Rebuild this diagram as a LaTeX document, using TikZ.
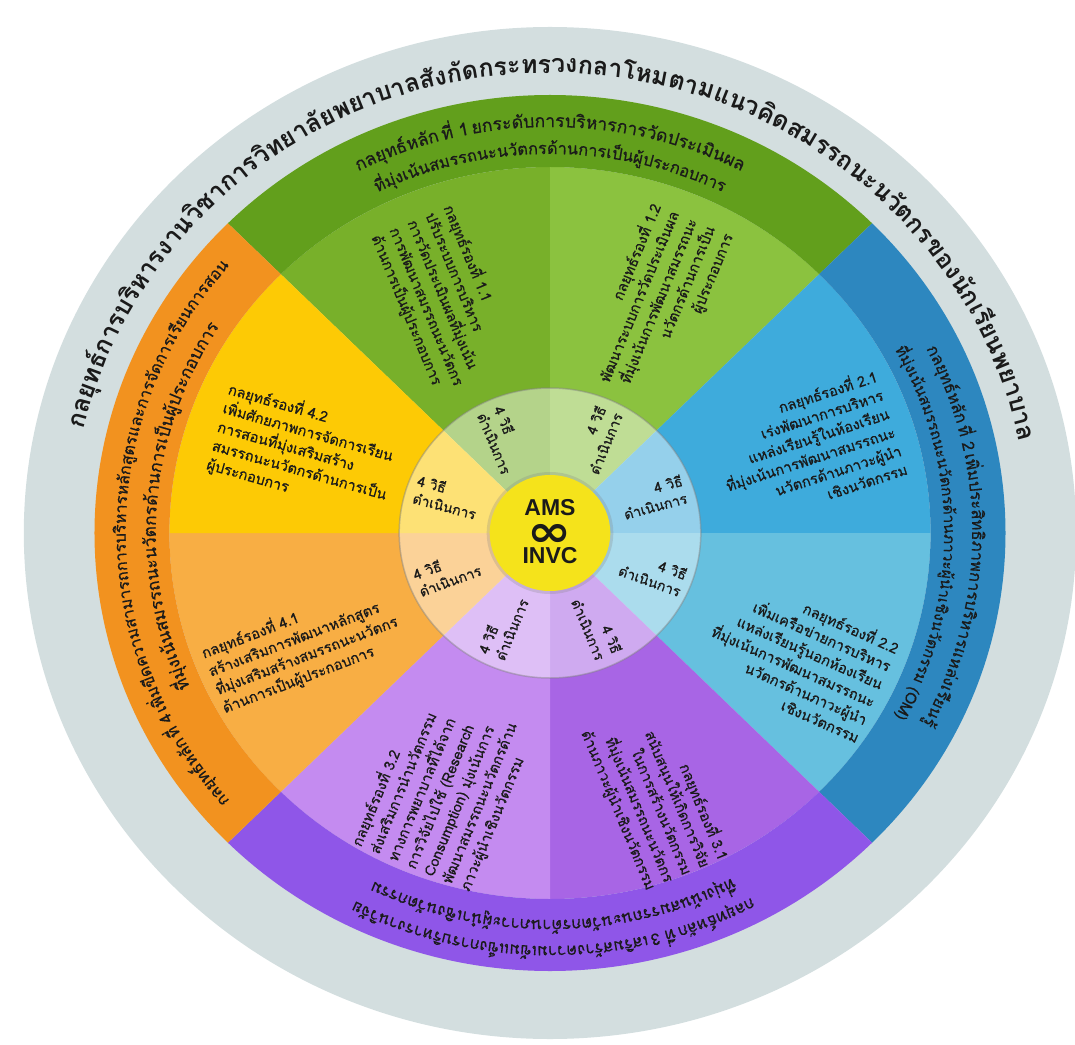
\documentclass[tikz,border=0pt]{standalone}
\usepackage{fontspec}
\newfontfamily\thai[Script=Thai, FakeBold=0.6]{Loma}
\newfontfamily\thaiplain[Script=Thai]{Loma}
\newfontfamily\latinb{Liberation Sans}
\newfontfamily\symf{DejaVu Sans}
\definecolor{greyring}{HTML}{D3DEDF}
\definecolor{bandgreen}{HTML}{629F1C}
\definecolor{c11}{HTML}{78B02A}
\definecolor{c12}{HTML}{8BC23F}
\definecolor{bandblue}{HTML}{2D87BF}
\definecolor{c21}{HTML}{3EABDC}
\definecolor{c22}{HTML}{66C0DF}
\definecolor{bandpurple}{HTML}{8F56E8}
\definecolor{c31}{HTML}{A865E5}
\definecolor{c32}{HTML}{C48BF0}
\definecolor{bandorange}{HTML}{F2921F}
\definecolor{c41}{HTML}{F8AE44}
\definecolor{c42}{HTML}{FDCA05}
\definecolor{centery}{HTML}{F5E31B}
\definecolor{ink}{HTML}{1A1A1A}
% radii (x = 1.04 y)
\def\RsX{380.6}\def\RsY{366}
\def\RbX{455.5}\def\RbY{438}
\def\RgX{526.2}\def\RgY{506}
\def\RiX{150.8}\def\RiY{145}
\def\RcX{60.3}\def\RcY{58}
\newdimen\atTot \newdimen\atW \newcount\atN
\newcommand\atMeasure[2]{\pgfinterruptpicture\setbox0=\hbox{#1\fontsize{10}{12}\selectfont #2}\global\atW=\wd0\relax\endpgfinterruptpicture}
% #1 radius (vertical), #2 start angle, #3 end angle (clockwise), #4 chunks, #5 font family
\newcommand\ArcFit[5]{%
  \global\atTot=0pt
  \foreach \ch in {#4}{\atMeasure{#5}{\ch}\global\advance\atTot by \atW}%
  \pgfmathsetmacro\atKa{sqrt((1.04*sin(#2))^2+(cos(#2))^2)}%
  \pgfmathsetmacro\atKb{sqrt((1.04*sin(((#2)+(#3))/2))^2+(cos(((#2)+(#3))/2))^2)}%
  \pgfmathsetmacro\atKc{sqrt((1.04*sin(#3))^2+(cos(#3))^2)}%
  \pgfmathsetmacro\atK{(\atKa+4*\atKb+\atKc)/6}%
  \pgfmathsetmacro\atScale{((#2)-(#3))/57.29578*(#1)*\atK/\the\atTot}%
  \pgfmathsetmacro\atFs{10*\atScale}%
  \pgfmathsetmacro\atRx{1.04*(#1)}%
  \xdef\atCur{#2}%
  \foreach \ch in {#4}{%
    \atMeasure{#5}{\ch}%
    \pgfmathsetmacro\atKk{sqrt((1.04*sin(\atCur))^2+(cos(\atCur))^2)}%
    \pgfmathsetmacro\atHalf{0.5*\the\atW*\atScale/((#1)*\atKk)*57.29578}%
    \pgfmathsetmacro\atAng{\atCur-\atHalf}%
    \pgfmathsetmacro\atKk{sqrt((1.04*sin(\atAng))^2+(cos(\atAng))^2)}%
    \pgfmathsetmacro\atHalf{0.5*\the\atW*\atScale/((#1)*\atKk)*57.29578}%
    \pgfmathsetmacro\atAng{\atCur-\atHalf}%
    \pgfmathsetmacro\atRot{atan2(-cos(\atAng),1.04*sin(\atAng))}%
    \global\advance\atN by 1
    \node[name=at\the\atN, anchor=base, inner sep=0pt, text=ink, rotate=\atRot] at (\atAng:\atRx pt and #1pt) {#5\fontsize{\atFs pt}{\atFs pt}\selectfont\ch};%
    \pgfmathsetmacro\atNext{\atAng-\atHalf}%
    \xdef\atCur{\atNext}%
  }%
}
\newcommand\Sector[3]{\fill[#1] (0,0) -- (#2:\RsX pt and \RsY pt) arc[start angle=#2,end angle=#3,x radius=\RsX pt,y radius=\RsY pt] -- cycle;}
\newcommand\Band[3]{\fill[#1] (#2:\RsX pt and \RsY pt) arc[start angle=#2,end angle=#3,x radius=\RsX pt,y radius=\RsY pt] -- (#3:\RbX pt and \RbY pt) arc[start angle=#3,end angle=#2,x radius=\RbX pt,y radius=\RbY pt] -- cycle;}
\newcommand\thaititle{\thaiplain\bfseries}
\begin{document}
\begin{tikzpicture}[x=1pt,y=1pt,
  subtext/.style={font=\thai\fontsize{14.5}{19.5}\selectfont, text=ink, inner sep=0pt},
  waytext/.style={font=\thai\fontsize{14}{18}\selectfont, text=ink, inner sep=0pt},
  centertext/.style={font=\latinb\bfseries\fontsize{23}{23}\selectfont, text=ink, inner sep=0pt}]
\useasboundingbox (-550,-511) rectangle (525,533);
\fill[greyring] (0,0) ellipse [x radius=\RgX pt, y radius=\RgY pt];
% sub sectors
\Sector{c11}{90}{135}
\Sector{c12}{45}{90}
\Sector{c21}{0}{45}
\Sector{c22}{-45}{0}
\Sector{c31}{270}{315}
\Sector{c32}{225}{270}
\Sector{c41}{180}{225}
\Sector{c42}{135}{180}
% bands
\Band{bandgreen}{45}{135}
\Band{bandblue}{-45}{45}
\Band{bandpurple}{225}{315}
\Band{bandorange}{135}{225}
% inner ring
\fill[white, opacity=0.45] (0,0) ellipse [x radius=\RiX pt, y radius=\RiY pt];
\draw[gray, line width=1.5pt, opacity=0.45] (0,0) ellipse [x radius=\RiX pt, y radius=\RiY pt];
\fill[gray, opacity=0.25] (0,0) ellipse [x radius=\RcX pt+3pt, y radius=\RcY pt+3pt];
\fill[centery] (0,0) ellipse [x radius=\RcX pt, y radius=\RcY pt];
% centre
\node[centertext] (ams) at (0,25) {AMS};
\node[font=\symf\bfseries\fontsize{46}{46}\selectfont, text=ink, inner sep=0pt, xscale=1.15, yscale=0.95, transform shape] (inf) at (0,-2) {∞};
\node[centertext] (invc) at (0,-23) {INVC};
% title
\ArcFit{460}{167}{12}{กล,ยุทธ์,การ,บริ,หาร,งาน,วิ,ชา,การ,วิท,ยา,ลัย,พ,ยา,บาล,สัง,กัด,กระ,ทรวง,กลา,โหม,ตาม,แนว,คิด,สม,รรถ,นะ,นวัต,กร,ของ,นัก,เรียน,พ,ยา,บาล}{\thaititle}
% band texts
\ArcFit{406}{117}{63}{กล,ยุทธ์,หลัก,ที่~,1~,ยก,ระ,ดับ,การ,บริ,หาร,การ,วัด,ประ,เมิน,ผล}{\thai}
\ArcFit{379}{116}{64}{ที่,มุ่ง,เน้น,สม,รรถ,นะ,นวัต,กร,ด้าน,การ,เป็น,ผู้,ประ,กอบ,การ}{\thai}
\ArcFit{406}{27}{-28}{กล,ยุทธ์,หลัก,ที่~,2~,เพิ่ม,ประ,สิท,ธิ,ภาพ,การ,บริ,หาร,แหล่ง,เรียน,รู้}{\thai}
\ArcFit{379}{29}{-29}{ที่,มุ่ง,เน้น,สม,รรถ,นะ,นวัต,กร,ด้าน,ภา,วะ,ผู้,นำ,เชิง,นวัต,กรรม,~(OM)}{\thai}
\ArcFit{413}{-62}{-117}{กล,ยุทธ์,หลัก,ที่~,3~,เสริม,สร้าง,ความ,เข้ม,แข็ง,การ,บริ,หาร,งาน,วิ,จัย}{\thai}
\ArcFit{387}{-63}{-116}{ที่,มุ่ง,เน้น,สม,รรถ,นะ,นวัต,กร,ด้าน,ภา,วะ,ผู้,นำ,เชิง,นวัต,กรรม}{\thai}
\ArcFit{408}{221}{139}{กล,ยุทธ์,หลัก,ที่~,4~,เพิ่ม,ขีด,ความ,สา,มา,รถ,การ,บริ,หาร,หลัก,สูตร,และ,การ,จัด,การ,เรียน,การ,สอน}{\thai}
\ArcFit{379}{204}{147}{ที่,มุ่ง,เน้น,สม,รรถ,นะ,นวัต,กร,ด้าน,การ,เป็น,ผู้,ประ,กอบ,การ}{\thai}
% sub strategy texts
\node[subtext, align=left, rotate=-67.5] (s11) at (-105,234) {กลยุทธ์รองที่ 1.1\\ปรับระบบการบริหาร\\การวัดประเมินผลที่มุ่งเน้น\\การพัฒนาสมรรถนะนวัตกร\\ด้านการเป็นผู้ประกอบการ};
\node[subtext, align=right, rotate=67.5] (s12) at (107,229) {กลยุทธ์รองที่ 1.2\\พัฒนาระบบการวัดประเมินผล\\ที่มุ่งเน้นการพัฒนาสมรรถนะ\\นวัตกรด้านการเป็น\\ผู้ประกอบการ};
\node[subtext, align=right, rotate=18] (s21) at (257,85) {กลยุทธ์รองที่ 2.1\\เร่งพัฒนาการบริหาร\\แหล่งเรียนรู้ในห้องเรียน\\ที่มุ่งเน้นการพัฒนาสมรรถนะ\\นวัตกรด้านภาวะผู้นำ\\เชิงนวัตกรรม};
\node[subtext, align=right, rotate=-24] (s22) at (248,-123) {กลยุทธ์รองที่ 2.2\\เพิ่มเครือข่ายการบริหาร\\แหล่งเรียนรู้นอกห้องเรียน\\ที่มุ่งเน้นการพัฒนาสมรรถนะ\\นวัตกรด้านภาวะผู้นำ\\เชิงนวัตกรรม};
\node[subtext, align=right, rotate=-67.5] (s31) at (105,-262) {กลยุทธ์รองที่ 3.1\\สนับสนุนให้เกิดการวิจัย\\ในการสร้างนวัตกรรม\\ที่มุ่งเน้นสมรรถนะนวัตกร\\ด้านภาวะผู้นำเชิงนวัตกรรม};
\node[subtext, align=left, rotate=67.5] (s32) at (-107,-255) {กลยุทธ์รองที่ 3.2\\ส่งเสริมการนำนวัตกรรม\\ทางการพยาบาลที่ได้จาก\\การวิจัยไปใช้ (Research\\Consumption) มุ่งเน้นการ\\พัฒนาสมรรถนะนวัตกรด้าน\\ภาวะผู้นำเชิงนวัตกรรม};
\node[subtext, align=left, rotate=21] (s41) at (-247,-113) {กลยุทธ์รองที่ 4.1\\สร้างเสริมการพัฒนาหลักสูตร\\ที่มุ่งเสริมสร้างสมรรถนะนวัตกร\\ด้านการเป็นผู้ประกอบการ};
\node[subtext, align=left, rotate=-16] (s42) at (-245,82) {กลยุทธ์รองที่ 4.2\\เพิ่มศักยภาพการจัดการเรียน\\การสอนที่มุ่งเสริมสร้าง\\สมรรถนะนวัตกรด้านการเป็น\\ผู้ประกอบการ};
% ways
\node[waytext, align=left, rotate=-15] (w42) at (-103,36) {4 วิธี\\ดำเนินการ};
\node[waytext, align=left, rotate=20] (w41) at (-103,-39) {4 วิธี\\ดำเนินการ};
\node[waytext, align=left, rotate=-67.5] (w11) at (-47,93) {4 วิธี\\ดำเนินการ};
\node[waytext, align=right, rotate=67.5] (w12) at (47,93) {4 วิธี\\ดำเนินการ};
\node[waytext, align=right, rotate=15] (w21) at (103,36) {4 วิธี\\ดำเนินการ};
\node[waytext, align=right, rotate=-20] (w22) at (103,-39) {4 วิธี\\ดำเนินการ};
\node[waytext, align=right, rotate=-67.5] (w31) at (47,-93) {4 วิธี\\ดำเนินการ};
\node[waytext, align=left, rotate=67.5] (w32) at (-47,-93) {4 วิธี\\ดำเนินการ};
\end{tikzpicture}
\end{document}
